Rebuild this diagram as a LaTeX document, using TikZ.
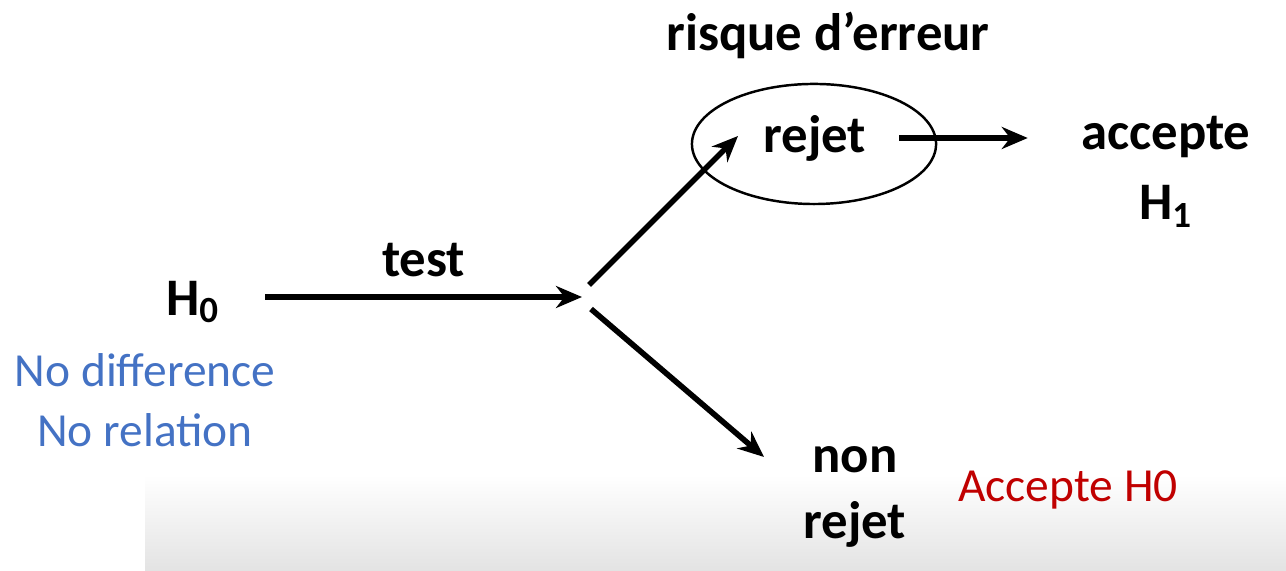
\documentclass[tikz,border=0pt]{standalone}
\usepackage{fontspec}
\setmainfont{Carlito}
\usetikzlibrary{arrows.meta, positioning, shapes.geometric}
\definecolor{noteblue}{RGB}{68,114,196}
\definecolor{notered}{RGB}{192,0,0}

\begin{document}
\begin{tikzpicture}[
	x = 0.01cm, y = -0.01cm,
	> = {Stealth[length=2.6mm,width=2.2mm]},
	every node/.style = {inner sep=0pt},
	word/.style = {font=\fontsize{15}{18}\selectfont\bfseries},
	note/.style = {font=\fontsize{13.5}{16}\selectfont, align=center},
	flow/.style = {->, line width=1.6pt}
	]
	\useasboundingbox (0,0) rectangle (1286,571);
	% grey band at the bottom
	\shade[top color=white, bottom color=black!11] (145,475) rectangle (1286,571);
	\node[word] (H0) at (193,302) {H\textsubscript{0}};
	\node[note, text=noteblue] (nodiff) at (145,400) {No difference\\[1pt]No relation};
	\coordinate (start) at (265,297);
	\coordinate (fork) at (582,297);
	\coordinate (forkup) at (589,285);
	\coordinate (forkdown) at (591,309);
	\coordinate (upend) at (738,136);
	\coordinate (downend) at (764,457);
	\node[word] (rejet) at (815,138) {rejet};
	\node[draw, ellipse, line width=0.7pt, inner sep=0pt,
		minimum width=2.44cm, minimum height=1.2cm] (risk) at (814,144) {};
	\node[word] (risque) at (828,35) {risque d'erreur};
	\node[word, align=center] (accepte) at (1166,172) {accepte\\[2pt]H\textsubscript{1}};
	\node[word, align=center] (nonrejet) at (855,497) {non\\[1pt]rejet};
	\node[note, text=notered] (acceptH0) at (1068,490) {Accepte H0};
	\path[flow]
	(start) edge node[word, above=5pt] (test) {test} (fork)
	(forkup) edge (upend)
	(forkdown) edge (downend)
	(rejet.east) edge[shorten <=3.2mm, shorten >=5.3mm] (accepte.west |- rejet.east);
\end{tikzpicture}
\end{document}
